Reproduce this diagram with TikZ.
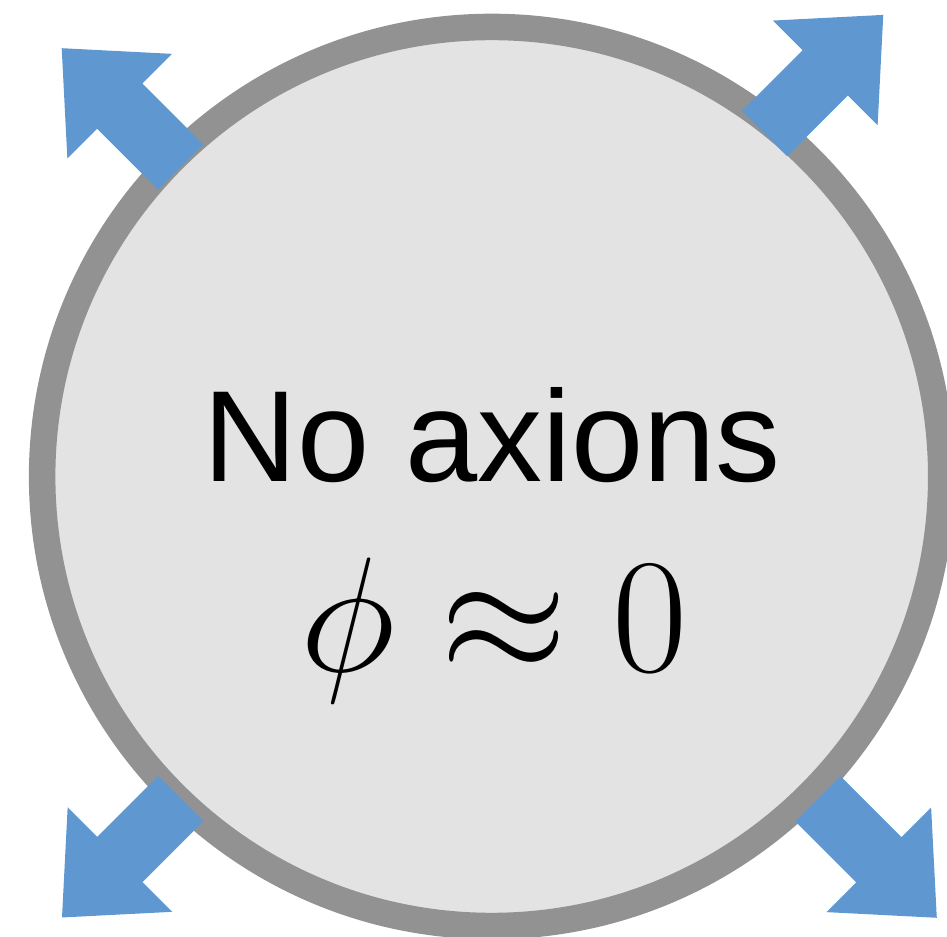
\RequirePackage{fix-cm}
\documentclass[tikz,border=0pt]{standalone}
\usepackage[no-math]{fontspec}
\usepackage{amsmath}
\newfontfamily\labelfont{Liberation Sans}
\definecolor{bubblefill}{HTML}{E3E3E3}
\definecolor{bubbleedge}{HTML}{929292}
\definecolor{pushblue}{HTML}{5F98D0}
\tikzset{pusharrow/.style={fill=pushblue, draw=none}}

\begin{document}
\begin{tikzpicture}[x=0.01cm, y=-0.01cm]
    \useasboundingbox (0, 0) rectangle (947, 937);
    \node[draw=bubbleedge, fill=bubblefill, circle, line width=0.265cm, inner sep=0pt, minimum size=8.986cm] (bubble) at (491.7, 476.5) {};
    \foreach \ox/\oy/\ang in {180.5/167/135, 764.5/133.7/45, 180.8/798.7/225, 818/799/315} {
        \begin{scope}[shift={(\ox, \oy)}, rotate=\ang]
            \fill[pusharrow] (0, 32) -- (86, 32) -- (86, 74) -- (168, 0) -- (86, -74) -- (86, -32) -- (0, -32) -- cycle;
        \end{scope}
    }
    \node[anchor=base, font=\labelfont\fontsize{36.9}{40}\selectfont] (title) at (492, 482) {No axions};
    \node[anchor=base, font=\fontsize{46.5}{50}\selectfont] (field) at (494, 672) {$\phi \approx 0$};
\end{tikzpicture}
\end{document}
